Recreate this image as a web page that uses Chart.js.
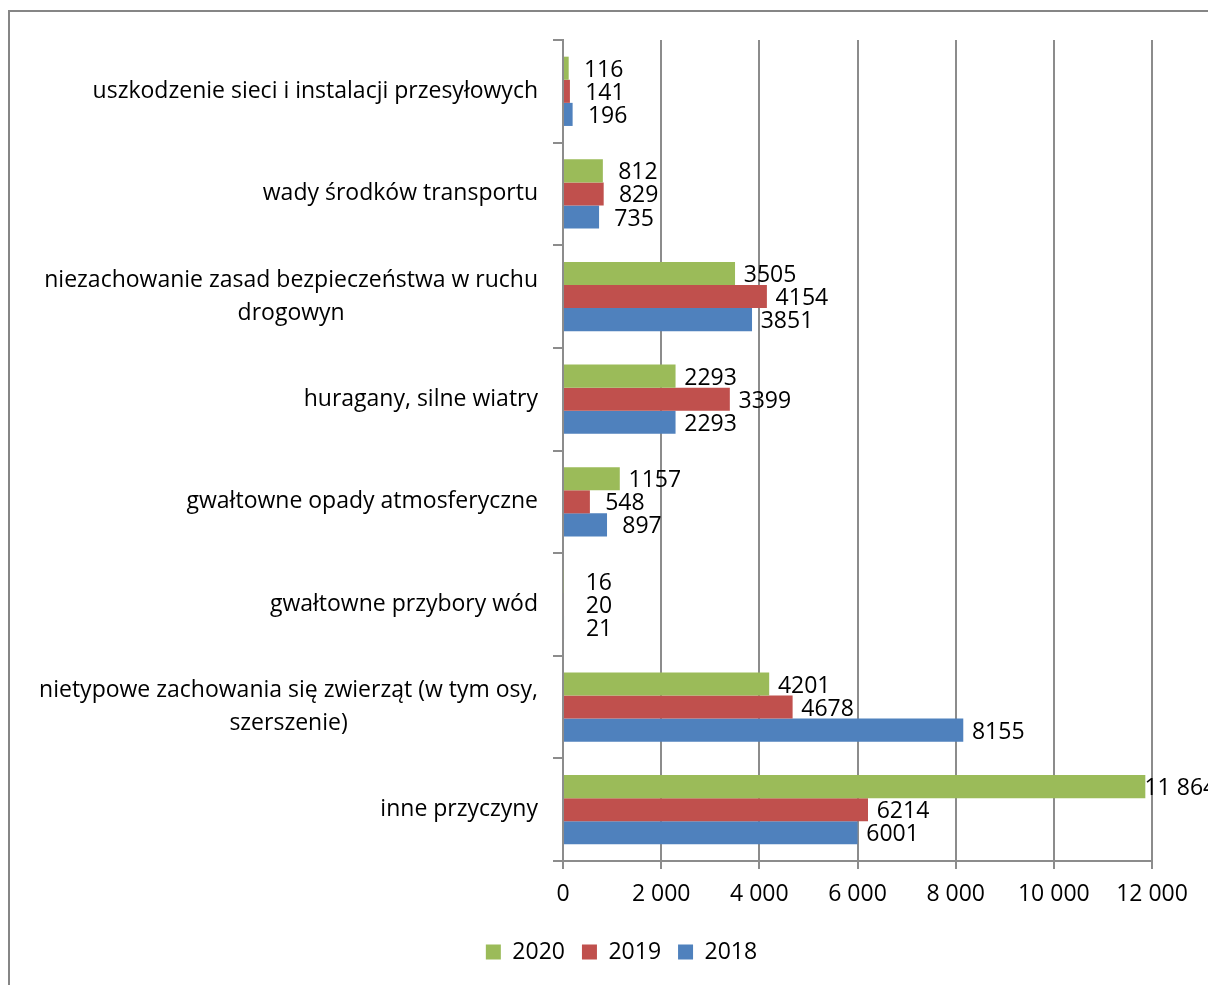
<!DOCTYPE html>
<html>
<head>
<meta charset="utf-8">
<script src="https://cdn.jsdelivr.net/npm/chart.js@4/dist/chart.umd.min.js"></script>
<style>
  html, body { margin: 0; padding: 0; background: #fff; overflow: hidden; }
  #wrap { position: relative; width: 1208px; height: 985px; overflow: hidden; }
  #frame { position: absolute; left: 8px; top: 10px; width: 1300px; height: 1100px; border: 2px solid #868686; box-sizing: border-box; }
  canvas { position: absolute; left: 0; top: 0; }
</style>
</head>
<body>
<div id="wrap">
  <div id="frame"></div>
  <canvas id="c" width="1208" height="985"></canvas>
</div>
<script>
const categories = [
  ['uszkodzenie sieci i instalacji przesyłowych'],
  ['wady środków transportu'],
  ['niezachowanie zasad bezpieczeństwa w ruchu', 'drogowyn'],
  ['huragany, silne wiatry'],
  ['gwałtowne opady atmosferyczne'],
  ['gwałtowne przybory wód'],
  ['nietypowe zachowania się zwierząt (w tym osy,', 'szerszenie)'],
  ['inne przyczyny']
];
const seriesNames = ['2020', '2019', '2018'];
const values2020 = [116, 812, 3505, 2293, 1157, 16, 4201, 11864];
const values2019 = [141, 829, 4154, 3399, 548, 20, 4678, 6214];
const values2018 = [196, 735, 3851, 2293, 897, 21, 8155, 6001];
const xTicks = [0, 2000, 4000, 6000, 8000, 10000, 12000];
const colors = ['#9BBB59', '#C0504D', '#4F81BD'];

const fmt = v => String(v).replace(/\B(?=(\d{3})+(?!\d))/g, ' ');
const fmtLabel = v => (v >= 10000 ? fmt(v) : String(v));
const FONT = "'Open Sans', sans-serif";

Chart.defaults.font.family = FONT;
Chart.defaults.font.size = 23;
Chart.defaults.color = '#000';

const valueLabels = {
  id: 'valueLabels',
  afterDatasetsDraw(chart) {
    const ctx = chart.ctx;
    ctx.save();
    ctx.font = '23px ' + FONT;
    ctx.fillStyle = '#000';
    ctx.textAlign = 'center';
    ctx.textBaseline = 'middle';
    chart.data.datasets.forEach((ds, i) => {
      const meta = chart.getDatasetMeta(i);
      meta.data.forEach((bar, j) => {
        ctx.fillText(fmtLabel(ds.data[j]), bar.x + 35, bar.y + 2);
      });
    });
    ctx.restore();
  }
};

const catLabels = {
  id: 'catLabels',
  afterDraw(chart) {
    const ctx = chart.ctx;
    const ys = chart.scales.y;
    const right = chart.chartArea.left - 25;
    ctx.save();
    ctx.font = '23px ' + FONT;
    ctx.fillStyle = '#000';
    ctx.textBaseline = 'middle';
    ctx.textAlign = 'center';
    const lh = 33;
    categories.forEach((lines, i) => {
      const yc = ys.getPixelForValue(i);
      const w = Math.max(...lines.map(l => ctx.measureText(l).width));
      const cx = right - w / 2;
      lines.forEach((l, k) => {
        const y = yc + (k - (lines.length - 1) / 2) * lh;
        ctx.fillText(l, cx, y);
      });
    });
    ctx.restore();
  }
};

new Chart(document.getElementById('c'), {
  type: 'bar',
  data: {
    labels: categories,
    datasets: [
      { label: seriesNames[0], data: values2020, backgroundColor: colors[0] },
      { label: seriesNames[1], data: values2019, backgroundColor: colors[1] },
      { label: seriesNames[2], data: values2018, backgroundColor: colors[2] }
    ]
  },
  options: {
    indexAxis: 'y',
    responsive: false,
    animation: false,
    devicePixelRatio: 1,
    layout: { padding: { top: 40, left: 91, right: 56, bottom: 11.5 } },
    datasets: { bar: { categoryPercentage: 0.675, barPercentage: 1, borderWidth: 0 } },
    scales: {
      x: {
        min: 0, max: 12000,
        afterBuildTicks(scale) { scale.ticks = xTicks.map(v => ({ value: v })); },
        ticks: { callback: v => fmt(v), padding: 12, maxRotation: 0, font: { size: 23 } },
        grid: { color: '#8c8c8c', lineWidth: 2, drawTicks: true, tickLength: 8 },
        border: { display: true, color: '#8c8c8c', width: 2 },
        afterFit(scale) { scale.height = 62.5; }
      },
      y: {
        ticks: { display: false },
        grid: { drawOnChartArea: false, drawTicks: true, tickLength: 10, color: '#8c8c8c', lineWidth: 2, offset: true },
        border: { display: true, color: '#8c8c8c', width: 2 },
        afterFit(scale) { scale.width = 472; }
      }
    },
    plugins: {
      legend: {
        position: 'bottom',
        labels: { boxWidth: 15, boxHeight: 15, padding: 17, font: { size: 23 } }
      },
      tooltip: { enabled: false }
    }
  },
  plugins: [valueLabels, catLabels]
});
</script>
</body>
</html>
